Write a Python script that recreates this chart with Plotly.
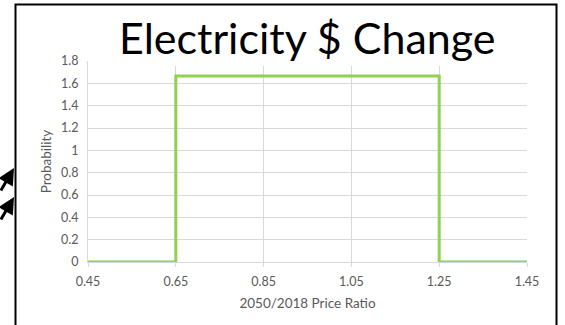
import plotly.graph_objects as go

# Data
price_ratio = [0.45, 0.65, 0.65, 1.25, 1.25, 1.45]
probability = [0.0, 0.0, 1.6667, 1.6667, 0.0, 0.0]
x_ticks = [0.45, 0.65, 0.85, 1.05, 1.25, 1.45]
x_tick_labels = ["0.45", "0.65", "0.85", "1.05", "1.25", "1.45"]
y_ticks = [0, 0.2, 0.4, 0.6, 0.8, 1.0, 1.2, 1.4, 1.6, 1.8]
y_tick_labels = ["0", "0.2", "0.4", "0.6", "0.8", "1", "1.2", "1.4", "1.6", "1.8"]

FONT = "Lato"
GRID = "#d9d9d9"
TXT = "#595959"

fig = go.Figure()
fig.add_trace(go.Scatter(
    x=price_ratio, y=probability, mode="lines",
    line=dict(color="#92d050", width=3),
    cliponaxis=False, showlegend=False, hoverinfo="skip",
))

W, H = 565, 325
L, R, T, B = 88, 38, 61, 63
pw, ph = W - L - R, H - T - B

def px(x):
    return (x - L) / pw

def py(y):
    return (H - B - y) / ph

fig.update_layout(
    width=W, height=H,
    margin=dict(l=L, r=R, t=T, b=B),
    paper_bgcolor="white", plot_bgcolor="white",
    font=dict(family=FONT, color=TXT, size=12),
    xaxis=dict(
        range=[0.45, 1.45], tickvals=x_ticks, ticktext=x_tick_labels,
        showgrid=True, gridcolor=GRID, gridwidth=1,
        showline=True, linecolor=GRID, linewidth=1,
        ticks="outside", ticklen=4, tickcolor=GRID,
        zeroline=False, tickfont=dict(size=12.5, color=TXT),
        ticklabelstandoff=4,
        title=dict(text="2050/2018 Price Ratio", font=dict(size=13.5, color=TXT), standoff=10),
    ),
    yaxis=dict(
        range=[0, 1.8], tickvals=y_ticks, ticktext=y_tick_labels,
        showgrid=True, gridcolor=GRID, gridwidth=1,
        showline=True, linecolor=GRID, linewidth=1,
        zeroline=False, tickfont=dict(size=12.5, color=TXT),
        ticks="", ticklabelstandoff=6,
        title=dict(text="Probability", font=dict(size=13.5, color=TXT), standoff=6),
    ),
)

# white title box covering top of plot area
fig.add_shape(type="rect", xref="paper", yref="paper",
              x0=px(98), x1=px(523), y0=py(66), y1=py(8),
              fillcolor="white", line=dict(width=0), layer="above")

# outer border
fig.add_shape(type="rect", xref="paper", yref="paper",
              x0=px(15.5), x1=px(556.5), y0=py(340), y1=py(4.5),
              fillcolor="rgba(0,0,0,0)", line=dict(color="black", width=2), layer="above")

fig.add_annotation(text="Electricity $ Change", xref="paper", yref="paper",
                   x=0.5, y=py(38), xanchor="center", yanchor="middle",
                   showarrow=False, font=dict(family=FONT, size=43, color="black"))

# arrows on left
for tip_y in [168, 197]:
    fig.add_annotation(text="", xref="paper", yref="paper",
                       x=px(14), y=py(tip_y), ax=-26, ay=24,
                       showarrow=True, arrowhead=2, arrowsize=1.1, arrowwidth=3,
                       arrowcolor="black")

fig.write_html("out.html")
